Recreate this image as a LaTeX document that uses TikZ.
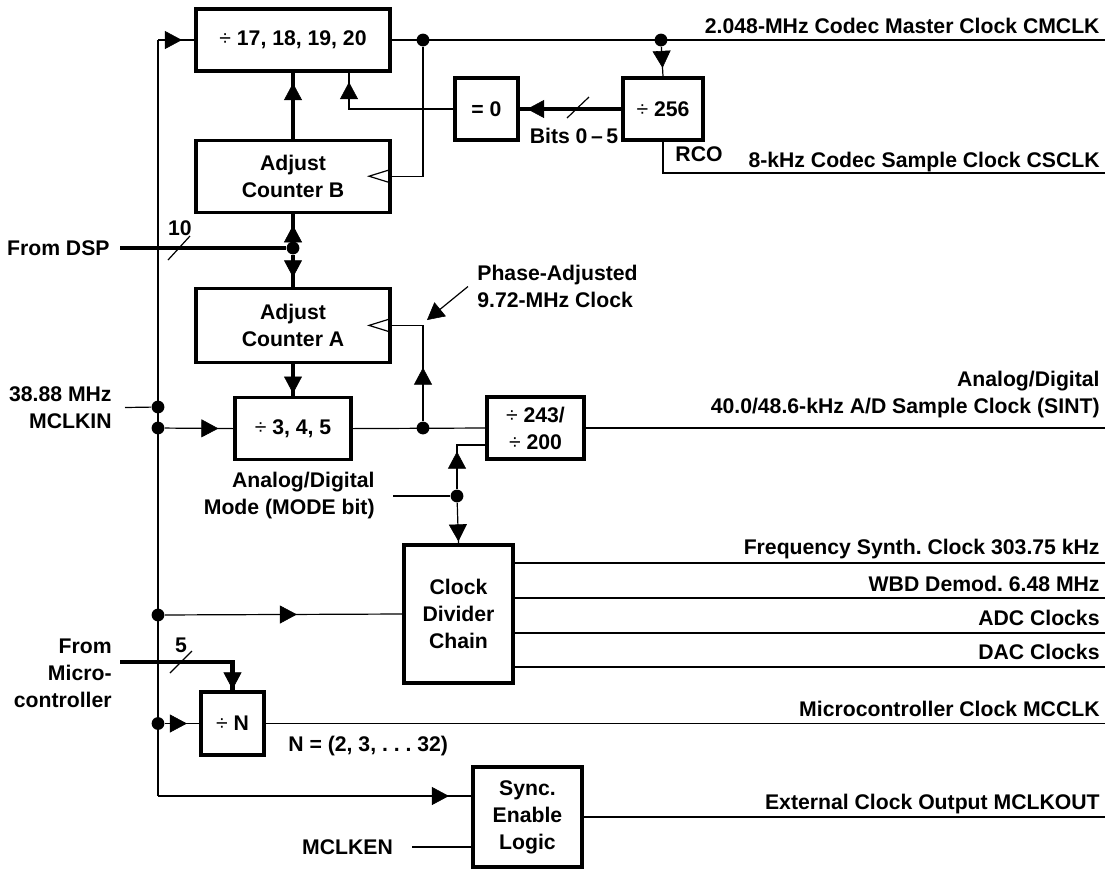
\documentclass[tikz,border=0pt]{standalone}
\usepackage{fontspec}
\setmainfont{Liberation Sans}
\usetikzlibrary{arrows.meta, positioning, decorations.markings, calc}
\tikzstyle{block} = [rectangle, draw=black, line width=1.6pt, inner sep=0pt, align=center]
\tikzstyle{wire} = [line width=0.6pt]
\tikzstyle{bus} = [line width=2.2pt]
\tikzstyle{dot} = [circle, fill=black, inner sep=0pt, minimum size=6.4pt]
\tikzstyle{lbl} = [inner sep=0pt, align=right]
\tikzset{
  tri/.tip={Triangle[length=8.5pt, width=9pt, line width=0.3pt]},
  arrat/.style={decoration={markings, mark=at position #1 with {\arrow{tri}}}, postaction={decorate}}
}
\frenchspacing

\begin{document}
\begin{tikzpicture}[x=0.5pt, y=-0.5pt, font=\fontsize{10.6}{13.5}\selectfont\bfseries]
    \useasboundingbox (0,0) rectangle (1110,869);

    % Bloques
    \node (div17) [block, minimum width=97pt, minimum height=31pt] at (293,40) {{\mdseries ÷} 17, 18, 19, 20};
    \node (adjB) [block, minimum width=97pt, minimum height=36pt, below=33pt of div17] {Adjust\\Counter B};
    \node (adjA) [block, minimum width=97pt, minimum height=37pt, below=36.5pt of adjB] {Adjust\\Counter A};
    \node (div345) [block, minimum width=58pt, minimum height=31pt, below=16pt of adjA] {{\mdseries ÷} 3, 4, 5};
    \node (zero) [block, minimum width=31.5pt, minimum height=31pt] at (486.5,109) {= 0};
    \node (div256) [block, minimum width=40pt, minimum height=31pt] at (663,109) {{\mdseries ÷} 256};
    \node (div243) [block, minimum width=48.5pt, minimum height=31pt] at (535.5,428) {{\mdseries ÷} 243/\\{\mdseries ÷} 200};
    \node (chain) [block, minimum width=54.5pt, minimum height=69pt] at (458.5,614) {Clock\\Divider\\Chain};
    \node (divN) [block, minimum width=31.5pt, minimum height=31.5pt] at (232.5,723.5) {{\mdseries ÷} N};
    \node (sync) [block, minimum width=54.5pt, minimum height=50pt] at (527.5,817) {Sync.\\Enable\\Logic};

    % Puntos
    \node (cmdot) [dot] at (423,40) {};
    \node (rdot) [dot] at (661,40) {};
    \node (dspdot) [dot] at (293,248) {};
    \node (indot) [dot] at (158,407) {};
    \node (d1) [dot] at (158,428) {};
    \node (phdot) [dot] at (423,428) {};
    \node (modedot) [dot] at (457,496) {};
    \node (d2) [dot] at (158,615) {};
    \node (d3) [dot] at (158,723.5) {};

    % Extremos
    \coordinate (busT) at (158,40);
    \coordinate (busB) at (158,796);
    \coordinate (cmclk) at (1105,40);
    \coordinate (csclk) at (1105,173);
    \coordinate (sint) at (1105,428);
    \coordinate (fs) at (1105,563);
    \coordinate (wbd) at (1105,598);
    \coordinate (adc) at (1105,633);
    \coordinate (dac) at (1105,667);
    \coordinate (mcclk) at (1105,723.5);
    \coordinate (mclkout) at (1105,817);
    \coordinate (microIn) at (120,662);
    \coordinate (phtip) at (427,320);

    % Etiquetas izquierda
    \node (dsp) [lbl, anchor=east] at (110,248) {From DSP};
    \node (mclkin) [lbl, anchor=east] at (112,407.5) {38.88 MHz\\MCLKIN};
    \node (micro) [lbl, anchor=east] at (112,673) {From\\Micro-\\controller};
    \node (mode) [lbl, anchor=east] at (375,496) {Analog/Digital\\Mode (MODE bit)};
    \node (phase) [lbl, align=left, anchor=west] at (477,286.5) {Phase-Adjusted\\9.72-MHz Clock};
    \node (mclken) [lbl] at (347.5,847) {MCLKEN};
    \node (bits) [lbl] at (574,135.5) {Bits 0\,–\,5};
    \node (rco) [lbl] at (699,154.5) {RCO};
    \node (nval) [lbl, anchor=west] at (288,746) {N = (2, 3, . . . 32)};
    \node (w10) [lbl] at (180,228) {10};
    \node (w5) [lbl] at (181,645) {5};

    % Etiquetas derecha
    \node [lbl, anchor=base east] at (1100,33) {2.048-MHz Codec Master Clock CMCLK};
    \node [lbl, anchor=base east] at (1100,167) {8-kHz Codec Sample Clock CSCLK};
    \node [lbl, anchor=east] at (1100,395) {Analog/Digital\\40.0/48.6-kHz A/D Sample Clock (SINT)};
    \node [lbl, anchor=base east] at (1100,554) {Frequency Synth. Clock 303.75 kHz};
    \node [lbl, anchor=base east] at (1100,591) {WBD Demod. 6.48 MHz};
    \node [lbl, anchor=base east] at (1100,625) {ADC Clocks};
    \node [lbl, anchor=base east] at (1100,659) {DAC Clocks};
    \node [lbl, anchor=base east] at (1100,716) {Microcontroller Clock MCCLK};
    \node [lbl, anchor=base east] at (1100,809) {External Clock Output MCLKOUT};

    % Reloj maestro
    \draw [wire] (busT) -- (busB);
    \draw [wire, arrat=-6.25pt] (busT) -- (div17.west);
    \draw [wire, arrat=26.8pt] (d1) -- (div345.west);
    \draw [wire] (mclkin.east) ++(6.5pt,0) -- (indot);
    \draw [wire, arrat=-52.75pt] (d2) -- (chain.west);
    \draw [wire, arrat=-6.25pt] (d3) -- (divN.west);
    \draw [wire, arrat=-11.25pt] (busB) -- (busB -| sync.west);

    % Contadores
    \draw [bus, arrat=-5.25pt] (adjB.north) -- (div17.south);
    \draw [bus] (dsp.east) ++(5pt,0) -- (dspdot);
    \draw [bus, arrat=-5.75pt] (dspdot) -- (adjB.south);
    \draw [bus, arrat=-4.75pt] (dspdot) -- (adjA.north);
    \draw [bus, arrat=-1.25pt] (adjA.south) -- (div345.north);
    \draw [bus, arrat=-3.75pt] (div256.west) -- (zero.east);
    \draw [wire, arrat=-4.75pt] (zero.west) -| ([xshift=28pt]div17.south);
    \draw [wire, arrat=-4.25pt] (rdot) -- (div256.north);

    % Relojes de los contadores
    \draw [wire] (cmdot) |- (adjB.east);
    \draw [wire] ([xshift=-0.8pt, yshift=3.25pt]adjB.east) -- ++(-10.5pt,-3.25pt) -- ++(10.5pt,-3.25pt);
    \draw [wire, arrat=26.8pt] (phdot) |- (adjA.east);
    \draw [wire] ([xshift=-0.8pt, yshift=3.25pt]adjA.east) -- ++(-10.5pt,-3.25pt) -- ++(10.5pt,-3.25pt);
    \draw [wire, -{tri}] (phase.west) ++(-4.5pt,0) -- (phtip);

    % Modo
    \draw [wire] (mode.east) ++(9pt,0) -- (modedot);
    \draw [wire, arrat=18.8pt] (modedot) |- ([yshift=-8.5pt]div243.west);
    \draw [wire, arrat=-1pt] (modedot) -- (chain.north);
    \draw [wire] (div345.east) -- (div243.west);
    \draw [bus, arrat=-0.5pt] (microIn) -| (divN.north);
    \draw [wire] (mclken.east) ++(9.5pt,0) -- (mclken.east -| sync.west);

    % Marcas de bus
    \draw [wire] (179,248) ++(-11,12) -- ++(22,-24);
    \draw [wire] (181,662) ++(-11,11) -- ++(22,-22);
    \draw [wire] (578,108) ++(-11,10) -- ++(22,-21);

    % Salidas
    \draw [wire] (div17.east) -- (cmclk);
    \draw [wire] (div256.south) |- (csclk);
    \draw [wire] (div243.east) -- (sint);
    \draw [wire] (chain.east |- fs) -- (fs);
    \draw [wire] (chain.east |- wbd) -- (wbd);
    \draw [wire] (chain.east |- adc) -- (adc);
    \draw [wire] (chain.east |- dac) -- (dac);
    \draw [wire] (divN.east) -- (mcclk);
    \draw [wire] (sync.east) -- (mclkout);
\end{tikzpicture}
\end{document}
